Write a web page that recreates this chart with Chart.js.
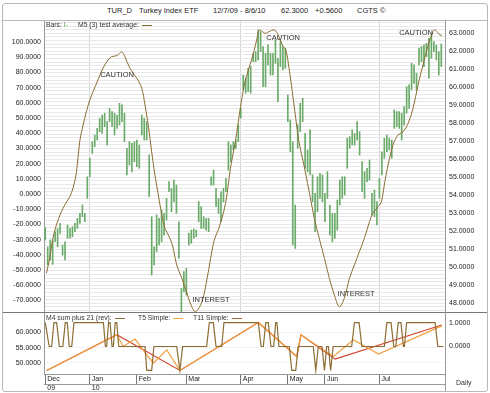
<!DOCTYPE html>
<html>
<head>
<meta charset="utf-8">
<script src="https://cdn.jsdelivr.net/npm/chart.js@4.4.1/dist/chart.umd.min.js"></script>
<style>
  body { margin: 0; background: #fff; font-family: "Liberation Sans", Arial, sans-serif; color: #222; }
  #wrap { position: relative; width: 490px; height: 393px; overflow: hidden; }
  .abs { position: absolute; white-space: nowrap; }
  .frame { position: absolute; left: 2px; top: 3px; width: 484px; height: 387px; border: 1px solid #b8b8b8; border-radius: 3px; }
  .hline { position: absolute; height: 0; border-top: 1px solid #9a9a9a; }
  .vline { position: absolute; width: 0; border-left: 1px solid #9a9a9a; }
  .title { font-size: 7.5px; top: 6px; }
  .legend { font-size: 6.8px; color: #333; }
  .sample { display: inline-block; width: 10px; height: 4px; border-bottom: 1px solid; margin-left: 3px; vertical-align: 1px; }
  canvas { position: absolute; left: 0; }
</style>
</head>
<body>
<div id="wrap">
  <div class="frame"></div>
  <div class="hline" style="left:3px;top:20px;width:484px;border-color:#b8b8b8"></div>

  <span class="abs title" style="left:107px">TUR_D</span>
  <span class="abs title" style="left:139px">Turkey Index ETF</span>
  <span class="abs title" style="left:213px">12/7/09 - 8/6/10</span>
  <span class="abs title" style="left:281px">62.3000</span>
  <span class="abs title" style="left:315px">+0.5600</span>
  <span class="abs title" style="left:357px">CGTS &copy;</span>

  <canvas id="mainChart" width="490" height="293" style="top:20px"></canvas>
  <canvas id="lowChart" width="490" height="80" style="top:313px"></canvas>

  <span class="abs legend" style="left:46px;top:21px">Bars: <span style="color:#4e9a4e">I-</span></span>
  <span class="abs legend" style="left:78px;top:21px">M5 (3) test average:<span class="sample" style="border-color:#8c6d33"></span></span>

  <span class="abs legend" style="left:46px;top:314px">M4 sum plus 21 (rev):<span class="sample" style="border-color:#8c6d33"></span></span>
  <span class="abs legend" style="left:138px;top:314px">T5 Simple:<span class="sample" style="border-color:#f0a040"></span></span>
  <span class="abs legend" style="left:193px;top:314px">T11 Simple:<span class="sample" style="border-color:#a0643a"></span></span>

  <div class="hline" style="left:3px;top:312px;width:484px;border-color:#777"></div>
  <div class="hline" style="left:44px;top:384px;width:401px"></div>
  <div class="vline" style="left:445px;top:20px;height:371px;border-color:#999"></div>
  <span class="abs legend" style="left:456px;top:379px;font-size:7px">Daily</span>
</div>

<script>
// ── Data ─────────────────────────────────────────────────────────────────────
const N_SLOTS = 162; // trading-day slots on the x axis (Dec 7 '09 → Aug 6 '10)

// daily bars, right axis (price)
const barHigh = [
  52.20, 51.14, 51.52, 51.52, 51.98, 52.16, 52.44, 51.24, 51.42, 52.35, 52.17, 52.26, 52.44, 52.72,
  53.00, 53.46, 53.00, 55.03, 56.06, 56.98, 57.35, 57.72, 58.28, 58.46, 58.56, 58.09, 58.83, 58.65,
  58.56, 58.46, 59.11, 59.02, 58.56, 56.61, 56.98, 56.89, 56.98, 57.07, 56.79, 58.46, 58.28, 58.09,
  56.24, 52.81, 51.14, 52.91, 52.72, 53.18, 53.00, 53.83, 54.76, 54.39, 54.85, 54.57, 52.53,
  48.83, 49.76, 49.94, 51.89, 52.07, 52.13, 52.07, 53.65, 53.37, 52.81, 52.72, 52.72, 55.03, 55.40,
  54.39, 53.83, 54.20, 54.39, 54.94, 56.98, 56.79, 56.98, 57.07, 57.91, 58.83, 60.68, 60.50,
  61.06, 61.15, 61.89, 61.98, 63.18, 63.09, 62.26, 61.89, 62.35, 61.89, 61.89, 62.63, 61.61, 62.54,
  62.26, 62.17, 59.57, 58.19, 56.98, 53.46, 57.91, 59.11, 59.39, 57.44, 56.52, 57.63,
  55.13, 54.11, 55.03, 55.22, 55.13, 54.11, 55.31, 53.46, 53.00, 53.00, 53.74, 54.85, 55.03, 55.03,
  57.17, 57.26, 57.63, 57.44, 58.09, 57.53, 55.87, 55.31, 55.50, 55.96, 54.11, 54.29, 53.65,
  54.94, 56.42, 57.17, 57.35, 57.17, 57.07, 58.74, 58.65, 58.65, 58.56, 58.93, 60.03, 60.13, 61.33,
  61.24, 60.78, 62.17, 62.26, 62.35, 62.44, 62.72, 62.91, 62.54, 62.35, 61.98, 62.40
];
const barLow = [
  51.52, 50.13, 50.41, 50.17, 51.42, 51.14, 51.89, 50.68, 50.41, 51.61, 51.62, 51.70, 51.98, 52.16,
  52.44, 52.81, 52.53, 53.83, 55.03, 56.33, 56.70, 57.07, 57.53, 57.44, 57.81, 56.79, 58.09, 57.81,
  57.35, 57.72, 57.91, 58.09, 56.98, 55.13, 55.68, 55.31, 55.87, 55.59, 55.50, 57.35, 57.07, 57.07,
  53.92, 49.57, 50.13, 50.87, 51.24, 51.42, 51.79, 52.63, 54.20, 53.09, 53.64, 53.00, 50.50,
  47.53, 48.65, 48.46, 51.24, 51.33, 51.61, 51.70, 52.53, 52.16, 52.16, 52.07, 51.98, 54.57, 54.57,
  53.37, 53.00, 52.53, 53.64, 54.20, 55.40, 55.87, 56.52, 56.61, 56.98, 58.28, 59.85, 59.67,
  59.76, 59.67, 61.42, 61.42, 61.52, 61.98, 60.03, 60.03, 61.24, 60.68, 60.68, 61.33, 59.20, 61.15,
  60.96, 61.06, 58.09, 56.42, 51.24, 51.05, 56.61, 57.53, 58.09, 55.50, 55.31, 55.13,
  53.64, 51.98, 53.09, 53.83, 53.64, 52.53, 53.83, 51.79, 51.42, 51.61, 52.07, 53.46, 53.83, 54.02,
  55.50, 56.61, 56.79, 56.79, 57.07, 56.24, 54.20, 53.83, 54.76, 54.85, 52.91, 52.81, 52.35,
  53.83, 55.13, 56.06, 56.42, 56.52, 56.06, 57.72, 57.81, 57.72, 57.07, 57.91, 58.56, 58.83, 59.85,
  60.22, 59.85, 61.24, 61.42, 61.15, 61.70, 60.50, 61.61, 61.98, 61.52, 60.68, 61.15
];

// M5 (3) test average, left axis
const curveDay = [
  0.5, 1.8, 3.1, 4.5, 6.5, 7.9, 9.9, 11.2, 12.6, 13.9, 15.3, 16.6, 18.0, 19.3, 21.3, 23.3, 25.4, 26.7,
  28.9, 30.9, 32.2, 34.2, 37.0, 39.0, 40.3, 41.6, 43.0, 44.3, 45.7, 47.1, 48.4, 50.4, 51.7, 53.1,
  55.1, 57.2, 58.9, 60.7, 63.3, 65.4, 68.1, 70.1, 72.1, 73.4, 74.8, 76.8, 78.8, 80.7, 82.3, 84.3,
  85.7, 86.4, 87.7, 89.1, 90.4, 92.5, 93.8, 95.8, 97.2, 98.5, 99.8, 101.2, 102.5, 104.5, 107.4,
  108.7, 110.7, 112.8, 114.8, 116.8, 118.8, 120.8, 122.9, 124.9, 126.9, 128.9, 131.0, 132.3, 134.5,
  135.8, 137.2, 138.5, 140.5, 142.5, 144.6, 146.6, 148.6, 150.6, 152.6, 154.7, 156.7, 157.6, 158.7, 160.3
];
const curveVal = [
  -52, -42.3, -29.2, -20.4, -11.6, -7.2, -1.8, 3.8, 14, 34.4, 45.4, 54.1, 61.8, 67.3, 75, 82.7, 88.2, 90.3,
  91, 93.4, 90.3, 82.7, 76.1, 69.5, 58.6, 45.4, 27.8, 12.5, -0.7, -13.8, -22.6, -29.2, -35.7, -46.7,
  -55, -65, -73, -77.4, -70.8, -55.5, -31.4, -22.6, -11.6, -0.7, 16.9, 34.4, 56.4, 74, 82.7, 93.6,
  103.5, 107.9, 106.8, 105.7, 106.8, 107.9, 105.7, 98, 94.7, 82.7, 67.3, 49.8, 34.4, 19.1, -5,
  -16, -29.2, -42.3, -55.5, -66.4, -74.1, -68.6, -55.5, -46.7, -38, -29.2, -18.2, -12.7, -8.3,
  -5, 8.1, 19.1, 32.2, 38.8, 41, 46.5, 56.4, 71.7, 84.9, 98, 106.8, 107.9, 105.7, 104
];

// lower panel: M4 sum plus 21 (rev), T5 Simple, T11 Simple (right axis)
const m4Day = [
  0, 1.6, 2.6, 3.5, 4.6, 5.7, 7.1, 8.1, 8.9, 9.7, 10.7, 11.6, 23.5, 24.3, 24.8, 25.6, 26.2, 27.0,
  27.5, 28.3, 28.9, 29.7, 40.3, 41.0, 43.0, 43.9, 53.1, 54.4, 55.5, 65.2, 66.3, 67.9, 69.0, 71.3,
  72.2, 86.1, 87.2, 88.1, 89.1, 90.1, 91.2, 92.3, 93.1, 93.6, 94.4, 98.6, 99.6, 101.2, 102.2,
  108.3, 109.3, 110.3, 111.8, 112.8, 113.7, 114.4, 115.3, 116.3, 123.8, 124.9, 126.8, 127.9,
  137.0, 138.0, 139.7, 140.8, 141.6, 142.6, 143.7, 144.7, 145.1, 146.0, 157.5, 158.6, 160.8
];
const m4Val = [
  1, 0, 0, 1, 1, 0, 0, 1, 1, 0, 0, 1, 1, 0, 0, 1, 1, 0,
  0, 1, 1, 0, 0, -1, -1, 0, 0, -1, 0, 0, 1, 1, 0, 0,
  1, 1, 0, 0, 1, 1, 0, 0, 1, 1, 0, 0, -1, -1, 0,
  0, -1, 0, 0, -1, 0, 0, -1, 0, 0, 1, 1, 0,
  0, 1, 1, 0, 0, 1, 1, 0, 0, 1, 1, 0, 0
];
const t5Day = [0.6, 28.9, 31.5, 36.3, 41.0, 43.7, 49.1, 54.4, 86.1, 101.6, 103.3, 116.4, 124.5, 134.6, 160.2];
const t5Val = [-1.0, 0.49, 0.0, 0.31, -0.35, -0.69, -0.14, -1.0, 1.0, -0.42, 0.49, -0.42, 0.28, -0.32, 0.86];
const t11Day = [0.6, 28.9, 54.4, 86.1, 101.6, 103.3, 117.1, 160.2];
const t11Val = [-1.0, 0.49, -1.0, 1.0, -0.42, 0.49, -0.53, 0.9];

// tick labels
const leftTicks = [100, 90, 80, 70, 60, 50, 40, 30, 20, 10, 0, -10, -20, -30, -40, -50, -60, -70];
const rightTicks = [63, 62, 61, 60, 59, 58, 57, 56, 55, 54, 53, 52, 51, 50, 49, 48];
const lowLeftTicks = [60, 55, 50];
const lowRightTicks = [1, 0];
const monthDay = [0, 18, 37, 57, 79, 98, 113, 135];
const monthNames = ["Dec", "Jan", "Feb", "Mar", "Apr", "May", "Jun", "Jul"];
const yearNames = ["09", "10", "", "", "", "", "", ""];
const quarterDay = [18, 79, 135];

// chart notes
const noteText = ["CAUTION", "CAUTION", "CAUTION", "INTEREST", "INTEREST"];
const noteDay = [29.0, 96.1, 149.8, 67.0, 125.6];
const noteVal = [78.3, 102.6, 105.9, -69.7, -65.8];

// ── Chart defaults ──────────────────────────────────────────────────────────
Chart.defaults.font.family = "'Liberation Sans', Arial, sans-serif";
Chart.defaults.font.size = 7;
Chart.defaults.color = "#222";

const BROWN = "#8c6d33";
const fmt4 = (v) => Number(v).toFixed(4);
const pts = (xs, ys) => xs.map((x, i) => ({ x, y: ys[i] }));
const fixTicks = (arr) => (s) => { s.ticks = arr.map((v) => ({ value: v })); };
// fixed axis size, and no extra inset for labels hanging over the ends
const fitTo = (w, h) => (s) => {
  if (w !== null) s.width = w;
  if (h !== null) s.height = h;
  s.paddingTop = s.paddingBottom = s.paddingLeft = s.paddingRight = 0;
};

const notesPlugin = {
  id: "notes",
  afterDatasetsDraw(chart) {
    const { ctx, scales } = chart;
    ctx.save();
    ctx.font = "7.5px 'Liberation Sans', Arial, sans-serif";
    ctx.fillStyle = "#333";
    ctx.textAlign = "center";
    ctx.textBaseline = "middle";
    noteText.forEach((t, i) => {
      ctx.fillText(t, scales.x.getPixelForValue(noteDay[i]), scales.yL.getPixelForValue(noteVal[i]));
    });
    ctx.restore();
  },
};

// fine horizontal grid on the price axis: every 0.2 between labelled ticks
const rightGrid = [];
rightTicks.forEach((t) => {
  for (let k = -2; k <= 3; k++) {
    const v = Math.round((t + k * 0.2) * 10) / 10;
    if (v >= 47.6 && v <= 63.6 && !rightGrid.includes(v)) rightGrid.push(v);
  }
});

// ── Main panel ──────────────────────────────────────────────────────────────
new Chart(document.getElementById("mainChart"), {
  type: "bar",
  data: {
    datasets: [
      {
        type: "line",
        data: pts(curveDay, curveVal),
        yAxisID: "yL",
        borderColor: BROWN,
        borderWidth: 1,
        pointRadius: 0,
        tension: 0.35,
        order: 0,
      },
      {
        type: "bar",
        data: barHigh.map((h, i) => ({ x: i, y: [barLow[i], h] })),
        yAxisID: "yR",
        backgroundColor: "#6aab6a",
        barThickness: 1,
        order: 1,
      },
    ],
  },
  options: {
    responsive: false,
    animation: false,
    layout: { padding: { top: 1, bottom: 1, left: 0, right: 0 } },
    plugins: { legend: { display: false }, tooltip: { enabled: false } },
    scales: {
      x: {
        type: "linear",
        min: -0.5,
        max: N_SLOTS - 0.5,
        offset: false,
        afterBuildTicks: fixTicks(quarterDay),
        afterFit: fitTo(null, 0),
        ticks: { display: false },
        grid: { color: "#d4d4d4", drawTicks: false, offset: false },
        border: { display: false },
      },
      yL: {
        position: "left",
        min: -77.6,
        max: 113.8,
        afterBuildTicks: fixTicks(leftTicks),
        afterFit: fitTo(44, null),
        ticks: { padding: 3, autoSkip: false, callback: fmt4 },
        grid: { drawOnChartArea: false, drawTicks: false },
        border: { color: "#999", dash: [1, 1] },
      },
      yR: {
        position: "right",
        min: 47.52,
        max: 63.68,
        afterBuildTicks: (s) => { s.ticks = rightGrid.map((v) => ({ value: v })); },
        afterFit: fitTo(45, null),
        ticks: {
          padding: 4,
          autoSkip: false,
          callback: (v) => (rightTicks.includes(v) ? fmt4(v) : ""),
        },
        grid: { color: "#e8e8e8", drawTicks: false },
        border: { display: false },
      },
    },
  },
  plugins: [notesPlugin],
});

// ── Lower panel ─────────────────────────────────────────────────────────────
new Chart(document.getElementById("lowChart"), {
  type: "line",
  data: {
    datasets: [
      { data: pts(m4Day, m4Val), borderColor: BROWN, borderWidth: 1.2 },
      { data: pts(t5Day, t5Val), borderColor: "#f0a040", borderWidth: 1.2 },
      { data: pts(t11Day, t11Val), borderColor: "#d2452e", borderWidth: 1.2 },
    ].map((d) => ({ ...d, yAxisID: "yR", pointRadius: 0, tension: 0 })),
  },
  options: {
    responsive: false,
    animation: false,
    layout: { padding: 0 },
    plugins: { legend: { display: false }, tooltip: { enabled: false } },
    scales: {
      x: {
        type: "linear",
        min: -0.5,
        max: N_SLOTS - 0.5,
        offset: false,
        afterBuildTicks: fixTicks(monthDay),
        afterFit: fitTo(null, 19),
        ticks: {
          autoSkip: false,
          maxRotation: 0,
          align: "start",
          padding: -9,
          labelOffset: 2,
          callback: (v, i) => (yearNames[i] ? [monthNames[i], yearNames[i]] : monthNames[i]),
        },
        grid: { drawOnChartArea: false, tickLength: 10, color: "#777" },
        border: { color: "#999" },
      },
      yL: {
        position: "left",
        min: 46.4,
        max: 66.3,
        afterBuildTicks: fixTicks(lowLeftTicks),
        afterFit: fitTo(44, null),
        ticks: { padding: 3, autoSkip: false, callback: fmt4 },
        grid: { color: "#e8e8e8", drawTicks: false },
        border: { color: "#999", dash: [1, 1] },
      },
      yR: {
        position: "right",
        min: -1.15,
        max: 1.4,
        afterBuildTicks: fixTicks(lowRightTicks),
        afterFit: fitTo(45, null),
        ticks: { padding: 4, autoSkip: false, callback: fmt4 },
        grid: { drawOnChartArea: false, drawTicks: false },
        border: { display: false },
      },
    },
  },
});
</script>
</body>
</html>
